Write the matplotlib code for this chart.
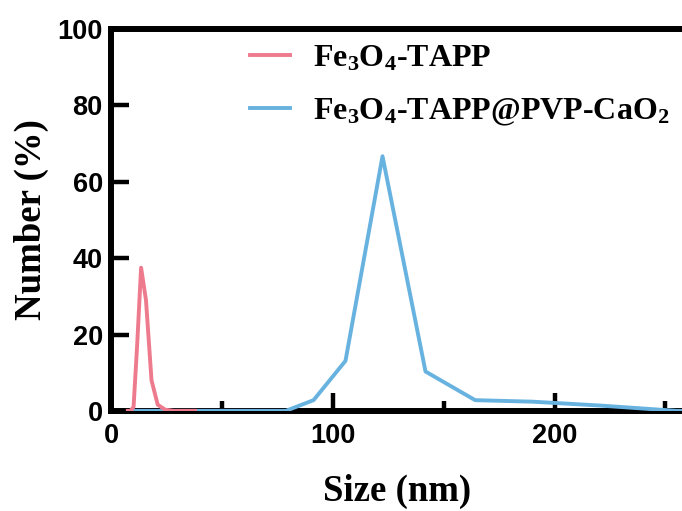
import matplotlib
matplotlib.use("Agg")
import matplotlib.pyplot as plt
from matplotlib.ticker import MultipleLocator

# Data
size_fe = [7.5, 8.7, 10.1, 11.7, 13.5, 15.7, 18.2, 21.0, 24.4, 28.2, 32.7, 37.8]
num_fe = [0.0, 0.0, 1.0, 17.0, 37.5, 29.0, 8.0, 1.6, 0.3, 0.0, 0.0, 0.0]

size_pvp = [10.1, 24.4, 37.8, 50.7, 68.1, 78.8, 91.3, 105.7, 122.4, 141.8, 164.2, 190.1, 220.2, 255.0, 295.3]
num_pvp = [0.0, 0.0, 0.0, 0.0, 0.0, 0.0, 2.8, 13.1, 66.7, 10.3, 2.8, 2.4, 1.4, 0.0, 0.0]

labels = [r"Fe$_3$O$_4$-TAPP", r"Fe$_3$O$_4$-TAPP@PVP-CaO$_2$"]
colors = ["#EE7A8D", "#68B2E0"]

plt.rcParams["mathtext.fontset"] = "custom"
plt.rcParams["mathtext.rm"] = "Liberation Serif:bold"
plt.rcParams["mathtext.it"] = "Liberation Serif:bold"
plt.rcParams["mathtext.bf"] = "Liberation Serif:bold"

fig = plt.figure(figsize=(6.82, 5.11), dpi=100)
ax = fig.add_axes([0.163, 0.196, 0.837, 0.747])

ax.plot(size_pvp, num_pvp, color=colors[1], lw=2.8, label=labels[1], zorder=3)
ax.plot(size_fe, num_fe, color=colors[0], lw=2.8, label=labels[0], zorder=4)

ax.set_xlim(0, 257.5)
ax.set_ylim(0, 100)
ax.xaxis.set_major_locator(MultipleLocator(100))
ax.xaxis.set_minor_locator(MultipleLocator(50))
ax.yaxis.set_major_locator(MultipleLocator(20))

for s in ["left", "bottom", "top"]:
    ax.spines[s].set_linewidth(4.3)
ax.spines["right"].set_visible(False)

ax.tick_params(axis="x", which="major", direction="in", length=13, width=3.2, pad=9, top=False)
ax.tick_params(axis="x", which="minor", direction="in", length=7, width=3.2, top=False)
ax.tick_params(axis="y", which="major", direction="in", length=13, width=3.2, pad=6, right=False)

for lab in ax.get_xticklabels() + ax.get_yticklabels():
    lab.set_fontfamily("Liberation Sans")
    lab.set_fontweight("bold")
    lab.set_fontsize(19.5)

ax.set_xlabel("Size (nm)", fontfamily="Liberation Serif", fontweight="bold", fontsize=26.5, labelpad=18)
ax.set_ylabel("Number (%)", fontfamily="Liberation Serif", fontweight="bold", fontsize=26.5, labelpad=6)

h, l = ax.get_legend_handles_labels()
leg = ax.legend(h[::-1], l[::-1], loc="upper left", bbox_to_anchor=(0.243, 0.962), frameon=False,
                prop={"family": "Liberation Serif", "weight": "bold", "size": 23},
                handlelength=1.25, handletextpad=0.72, labelspacing=0.75,
                borderpad=0, borderaxespad=0)

fig.savefig("out.png", dpi=100)
